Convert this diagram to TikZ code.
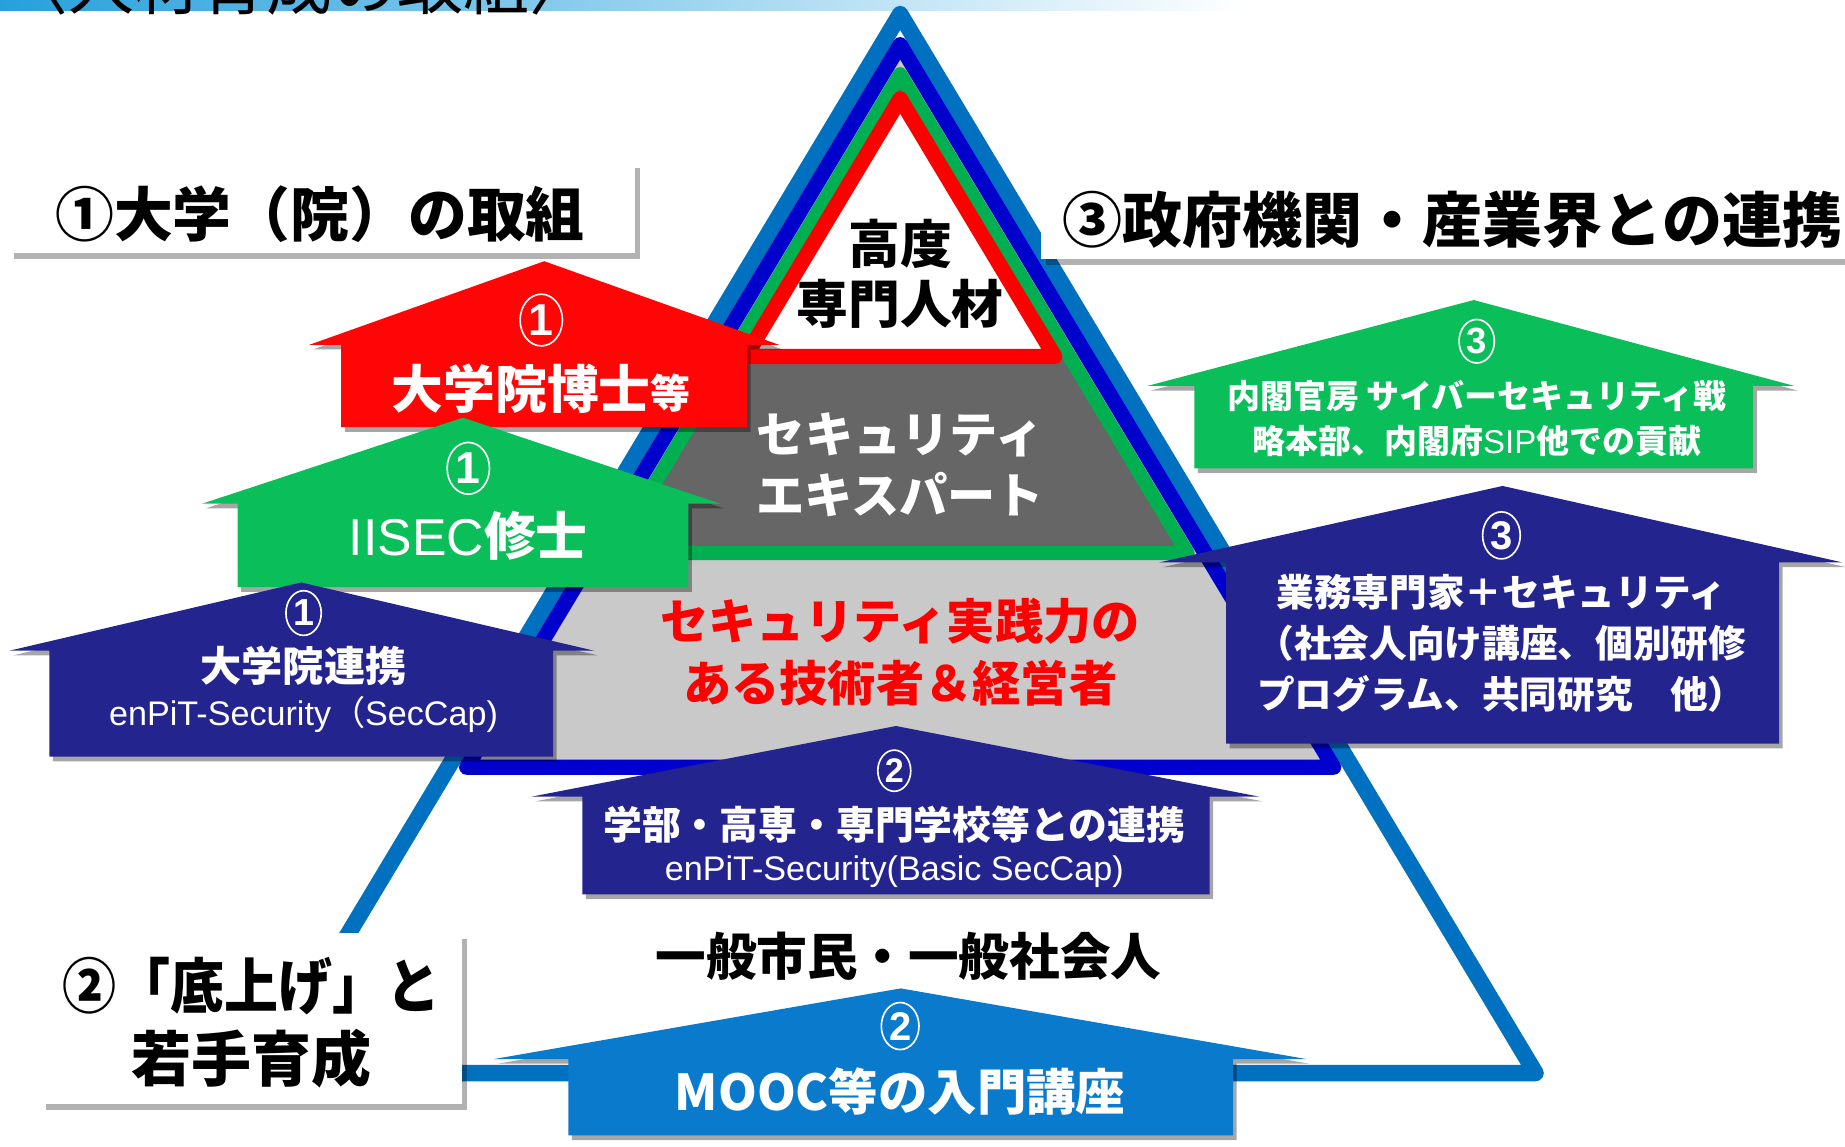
\documentclass[tikz,border=0pt]{standalone}
\usepackage{fontspec}
\usepackage{graphicx}
\setmainfont{Liberation Sans}
\newfontfamily\jp{Noto Sans CJK JP}
\usetikzlibrary{shadows,shapes.geometric}
\definecolor{triA}{HTML}{0070C0}
\definecolor{triB}{HTML}{0000CC}
\definecolor{triC}{HTML}{00B050}
\definecolor{triD}{HTML}{FF0000}
\definecolor{greyA}{HTML}{666666}
\definecolor{greyB}{HTML}{C9C9C9}
\definecolor{hRed}{HTML}{FF0505}
\definecolor{hGreen}{HTML}{0ABE5A}
\definecolor{hNavy}{HTML}{24248F}
\definecolor{hSky}{HTML}{0A7ACD}
\definecolor{stripL}{HTML}{26A0DC}
\newcommand\fsz[2]{\fontsize{#1}{#2}\selectfont}
% #1 colour, #2 left eave, #3 left body, #4 right body, #5 right eave, #6 apex y, #7 eave y, #8 bottom y
\newcommand\mkhouse[8]{%
  \path[fill=#1, hshadow] (#3,#8) -- (#3,#7) -- (#2,#7) -- ({(#3+#4)/2},#6) -- (#5,#7) -- (#4,#7) -- (#4,#8) -- cycle;}
\begin{document}
\begin{tikzpicture}[x=1pt,y=-1pt,
  hshadow/.style={drop shadow={shadow xshift=3pt, shadow yshift=-4pt, opacity=0.35, fill=black}},
  lblbox/.style={fill=white, draw=none, inner sep=0, drop shadow={shadow xshift=4pt, shadow yshift=-5pt, opacity=0.3, fill=black}},
  wtxt/.style={text=white, inner sep=0, align=center},
  ktxt/.style={text=black, inner sep=0, align=center},
  rtxt/.style={text=red, inner sep=0, align=center},
  cnum/.style={ellipse, draw=white, line width=1.4, inner sep=0, text=white, font=\bfseries},
  tri/.style={line join=round}]
\useasboundingbox (0,0) rectangle (1568,974);
\begin{scope}
\clip (0,0) rectangle (1568,974);
% top strip and cut-off title
\shade[left color=stripL, right color=white] (0,0) rectangle (1060,9);
\node[anchor=base west, inner sep=0, font=\jp\fsz{56}{56}] (title) at (2,8) {〈人材育成の取組〉};

% pyramid
\fill[greyB] (765,38) -- (1133.4,652) -- (396.6,652) -- cycle;
\fill[greyA] (765,63) -- (1009.2,470) -- (520.8,470) -- cycle;
\fill[white] (765,84) -- (896.4,303) -- (633.6,303) -- cycle;
\draw[tri, triA, line width=14] (765,12) -- (1305,912) -- (225,912) -- cycle;
\draw[tri, triB, line width=13] (765,38) -- (1133.4,652) -- (396.6,652) -- cycle;
\draw[tri, triC, line width=12] (765,63) -- (1009.2,470) -- (520.8,470) -- cycle;
\draw[tri, triD, line width=13] (765,84) -- (896.4,303) -- (633.6,303) -- cycle;

\node[ktxt, font=\jp\bfseries\fsz{44}{51}] (top) at (765,233) {高度\\専門人材};
\node[wtxt, font=\jp\bfseries\fsz{41}{52}] (mid) at (765,395) {セキュリティ\\エキスパート};
\node[rtxt, font=\jp\bfseries\fsz{41}{53}] (low) at (765,554) {セキュリティ実践力の\\ある技術者＆経営者};
\node[ktxt, font=\jp\bfseries\fsz{43}{43}] (base) at (772,813) {一般市民・一般社会人};

% label boxes
\node[lblbox, minimum width=532, minimum height=77] (L1) at (274,176.5) {};
\node[ktxt, font=\jp\bfseries\fsz{50}{50}] (L1t) at (272,182) {①大学（院）の取組};
\node[lblbox, minimum width=700, minimum height=77] (L3) at (1235,181.5) {};
\node[ktxt, anchor=west, font=\jp\bfseries\fsz{51}{51}] (L3t) at (903,187) {③政府機関・産業界との連携};
\node[lblbox, minimum width=358, minimum height=145] (L2) at (214,865.5) {};
\node[ktxt, font=\jp\bfseries\fsz{51}{62}] (L2t) at (214,869) {\scalebox{0.9}[1]{②「底上げ」と}\\若手育成};

% houses, left side
\mkhouse{hRed}{263}{290}{635}{662}{222}{293}{363}
\node[cnum, minimum width=36, minimum height=44, font=\bfseries\fsz{38}{38}] (r1) at (460,272) {1};
\node[wtxt, font=\jp\bfseries\fsz{44}{44}] (r2) at (460,330) {大学院博士{\fsz{34}{34}等}};

\mkhouse{hGreen}{172}{202}{585}{612}{355}{428}{499}
\node[cnum, minimum width=36, minimum height=44, font=\bfseries\fsz{38}{38}] (g1) at (398,398) {1};
\node[wtxt, font=\fsz{44}{44}] (g2) at (398,455) {IISEC{\jp\bfseries 修士}};

\mkhouse{hNavy}{8}{42}{470}{505}{495}{553}{643}
\node[cnum, minimum width=30, minimum height=38, font=\bfseries\fsz{32}{32}] (b1) at (258,521) {1};
\node[wtxt, font=\jp\bfseries\fsz{35}{35}] (b2) at (258,566) {大学院連携};
\node[wtxt, font=\fsz{29}{29}] (b3) at (258,607) {enPiT-Security{\jp （}SecCap)};

% houses, centre
\mkhouse{hNavy}{452}{495}{1028}{1070}{617}{677}{760}
\node[cnum, minimum width=28, minimum height=35, font=\bfseries\fsz{29}{29}] (c1) at (760,655) {2};
\node[wtxt, font=\jp\bfseries\fsz{33}{33}] (c2) at (760,701) {学部・高専・専門学校等との連携};
\node[wtxt, font=\fsz{29}{29}] (c3) at (760,741) {enPiT-Security(Basic SecCap)};

\mkhouse{hSky}{420}{483}{1048}{1110}{840}{900}{965}
\node[cnum, minimum width=32, minimum height=40, font=\bfseries\fsz{34}{34}] (m1) at (765,872) {2};
\node[wtxt, font=\jp\bfseries\fsz{42}{42}] (m2) at (765,928) {MOOC等の入門講座};

% houses, right side
\mkhouse{hGreen}{975}{1015}{1490}{1525}{255}{328}{398}
\node[cnum, minimum width=30, minimum height=37, font=\bfseries\fsz{31}{31}] (s1) at (1255,290) {3};
\node[wtxt, font=\jp\bfseries\fsz{28}{38}] (s2) at (1255,356) {内閣官房 サイバーセキュリティ戦\\略本部、内閣府{\rmfamily\mdseries SIP}他での貢献};

\mkhouse{hNavy}{985}{1042}{1512}{1566}{413}{478}{632}
\node[cnum, minimum width=32, minimum height=40, font=\bfseries\fsz{34}{34}] (t1) at (1276,455) {3};
\node[wtxt, font=\jp\bfseries\fsz{32}{43.5}] (t2) at (1276,547) {業務専門家＋セキュリティ\\（社会人向け講座、個別研修\\プログラム、共同研究　他）};
\end{scope}
\end{tikzpicture}
\end{document}
